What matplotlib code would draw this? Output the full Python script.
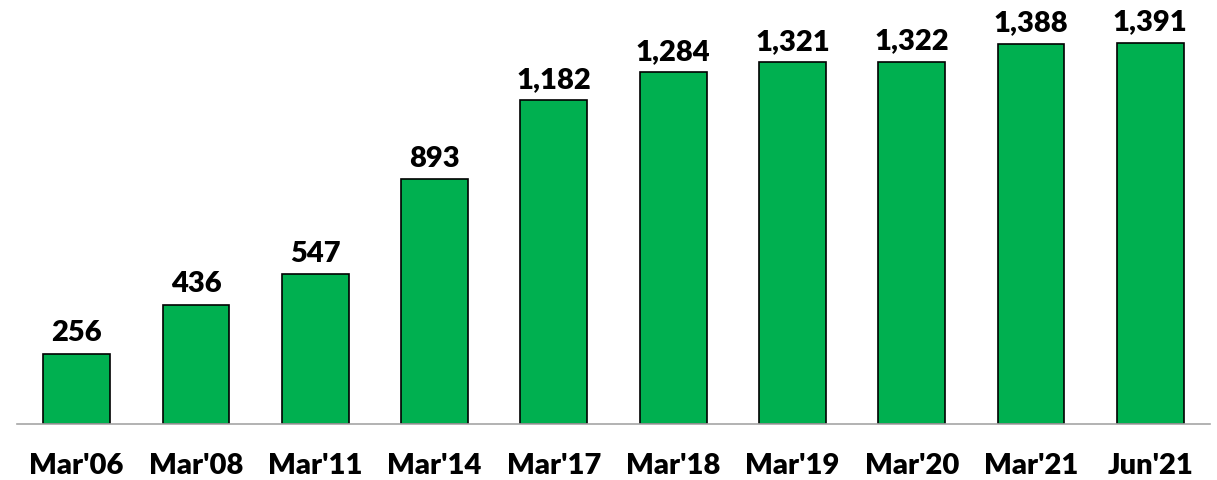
import numpy as np
import matplotlib.pyplot as plt

periods = ["Mar'06", "Mar'08", "Mar'11", "Mar'14", "Mar'17",
           "Mar'18", "Mar'19", "Mar'20", "Mar'21", "Jun'21"]
values = [256, 436, 547, 893, 1182, 1284, 1321, 1322, 1388, 1391]

plt.rcParams['font.family'] = ['Lato', 'DejaVu Sans']

fig = plt.figure(figsize=(12.17, 4.8), dpi=100)
ax = fig.add_axes([17 / 1217, 56 / 480, 1193 / 1217, 424 / 480])

x = np.arange(len(values))
bars = ax.bar(x, values, width=0.56, color='#00b050', edgecolor='black', linewidth=1.2)

for xi, v in zip(x, values):
    ax.annotate(f"{v:,}", (xi, v), xytext=(0, 9), textcoords='offset points',
                ha='center', va='baseline', fontsize=21, fontweight='heavy')

ax.set_xlim(-0.5, len(values) - 0.5)
ax.set_ylim(0, 1548)
ax.set_xticks(x)
ax.set_xticklabels(periods, fontsize=21, fontweight='heavy')
ax.tick_params(axis='x', length=0, pad=21)
ax.set_yticks([])
for side in ['top', 'right', 'left']:
    ax.spines[side].set_visible(False)
ax.spines['bottom'].set_color('#a6a6a6')
ax.spines['bottom'].set_linewidth(1.2)

fig.savefig("out.png", dpi=100)
